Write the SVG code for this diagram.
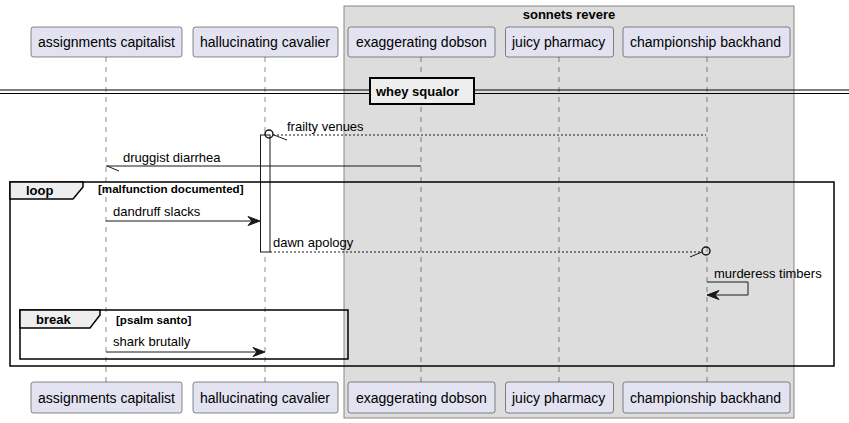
<svg xmlns="http://www.w3.org/2000/svg" width="849" height="423" viewBox="0 0 849 423">
<style>
text{font-family:"Liberation Sans",Arial,sans-serif;fill:#000}
.pbox{fill:#E2E2F0;stroke:#181818;stroke-width:0.5}
.ptxt{font-size:14px}
.life{stroke:#181818;stroke-width:0.5;stroke-dasharray:5,5}
.msg{stroke:#181818;stroke-width:1;fill:none}
.dash{stroke-dasharray:2,2}
.mtxt{font-size:13px}
.frame{fill:none;stroke:#000;stroke-width:1.5}
.tab{fill:#EEEEEE;stroke:#000;stroke-width:1.5}
.ftxt{font-size:13px;font-weight:bold}
.gtxt{font-size:11.6px;font-weight:bold}
.head{fill:#181818;stroke:#181818;stroke-width:1}
</style>
<rect x="344" y="6" width="450" height="412" fill="#DDDDDD" stroke="#888888" stroke-width="1"/>
<text x="569" y="19" text-anchor="middle" class="ftxt">sonnets revere</text>
<g id="lifelines">
<line class="life" x1="106" y1="57" x2="106" y2="382"/>
<line class="life" x1="265" y1="57" x2="265" y2="382"/>
<line class="life" x1="421" y1="57" x2="421" y2="382"/>
<line class="life" x1="559" y1="57" x2="559" y2="382"/>
<line class="life" x1="707" y1="57" x2="707" y2="382"/>
</g>
<g id="p1">
<rect class="pbox" x="31" y="27" width="151" height="30" rx="2.5"/>
<text class="ptxt" x="38" y="47">assignments capitalist</text>
<rect class="pbox" x="31" y="382" width="151" height="31" rx="2.5"/>
<text class="ptxt" x="38" y="403">assignments capitalist</text>
</g>
<g id="p2">
<rect class="pbox" x="193" y="27" width="145" height="30" rx="2.5"/>
<text class="ptxt" x="200" y="47">hallucinating cavalier</text>
<rect class="pbox" x="193" y="382" width="145" height="31" rx="2.5"/>
<text class="ptxt" x="200" y="403">hallucinating cavalier</text>
</g>
<g id="p3">
<rect class="pbox" x="348" y="27" width="147" height="30" rx="2.5"/>
<text class="ptxt" x="356" y="47">exaggerating dobson</text>
<rect class="pbox" x="348" y="382" width="147" height="31" rx="2.5"/>
<text class="ptxt" x="356" y="403">exaggerating dobson</text>
</g>
<g id="p4">
<rect class="pbox" x="505.5" y="27" width="108" height="30" rx="2.5"/>
<text class="ptxt" x="512" y="47">juicy pharmacy</text>
<rect class="pbox" x="505.5" y="382" width="108" height="31" rx="2.5"/>
<text class="ptxt" x="512" y="403">juicy pharmacy</text>
</g>
<g id="p5">
<rect class="pbox" x="623" y="27" width="167" height="30" rx="2.5"/>
<text class="ptxt" x="630" y="47">championship backhand</text>
<rect class="pbox" x="623" y="382" width="167" height="31" rx="2.5"/>
<text class="ptxt" x="630" y="403">championship backhand</text>
</g>
<g id="divider">
<line x1="0" y1="90" x2="849" y2="90" stroke="#000" stroke-width="1"/>
<line x1="0" y1="93.5" x2="849" y2="93.5" stroke="#000" stroke-width="1"/>
<rect x="370" y="78" width="104" height="26" fill="#EEEEEE" stroke="#000" stroke-width="2"/>
<text x="376" y="96" class="ftxt">whey squalor</text>
</g>
<g id="activation">
<rect x="260.5" y="135" width="9.5" height="117" fill="#FFFFFF" stroke="#181818" stroke-width="1"/>
</g>
<g id="loop">
<rect class="frame" x="10" y="182" width="824" height="184"/>
<polygon class="tab" points="10,182 83,182 83,187 73,199 10,199"/>
<text x="26" y="195" class="ftxt">loop</text>
<text x="98" y="193" class="gtxt">[malfunction documented]</text>
</g>
<g id="break">
<rect class="frame" x="20" y="310" width="328" height="49"/>
<polygon class="tab" points="20,310 100,310 100,315 90,328 20,328"/>
<text x="36" y="324" class="ftxt">break</text>
<text x="116" y="324" class="gtxt">[psalm santo]</text>
</g>
<g id="connectors">
<line class="msg dash" x1="273" y1="135" x2="706" y2="135"/>
<circle cx="269" cy="134" r="4" fill="none" stroke="#181818" stroke-width="1.5"/>
<line class="msg" x1="274" y1="135" x2="287" y2="140"/>
<text class="mtxt" x="287" y="131">frailty venues</text>

<line class="msg" x1="106" y1="166" x2="421" y2="166"/>
<line class="msg" x1="107" y1="166" x2="119" y2="171"/>
<text class="mtxt" x="123" y="162">druggist diarrhea</text>

<line class="msg" x1="106" y1="221" x2="258" y2="221"/>
<polygon class="head" points="260,221 248,216.5 252,221 248,225.5"/>
<text class="mtxt" x="113" y="216">dandruff slacks</text>

<line class="msg dash" x1="270" y1="252" x2="702" y2="252"/>
<circle cx="706" cy="251" r="4" fill="none" stroke="#181818" stroke-width="1.5"/>
<line class="msg" x1="690" y1="257" x2="702" y2="252"/>
<text class="mtxt" x="273" y="247">dawn apology</text>

<polyline class="msg" points="707,282 748,282 748,295 708,295"/>
<polygon class="head" points="707,295 719,290.5 715,295 719,299.5"/>
<text class="mtxt" x="714" y="278">murderess timbers</text>

<line class="msg" x1="106" y1="352" x2="263" y2="352"/>
<polygon class="head" points="265,352 253,347.5 257,352 253,356.5"/>
<text class="mtxt" x="113" y="346">shark brutally</text>
</g>
</svg>
